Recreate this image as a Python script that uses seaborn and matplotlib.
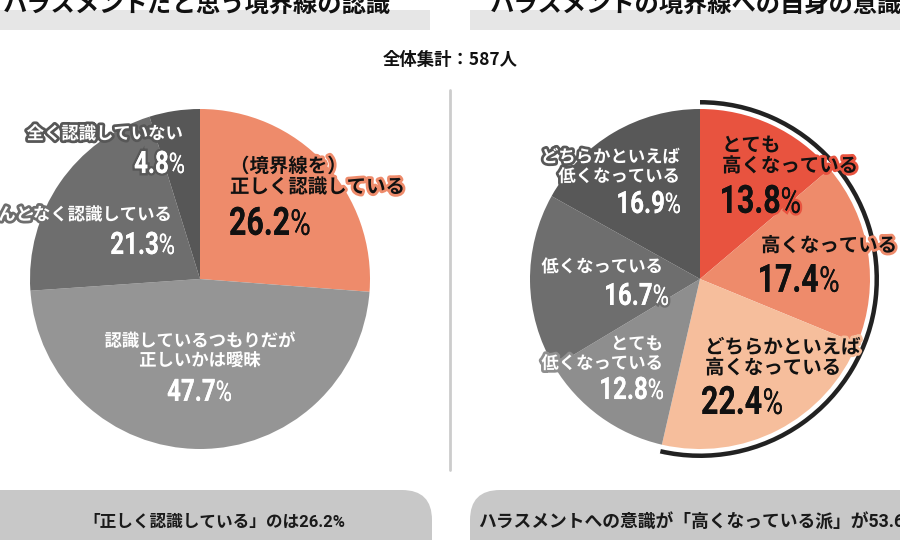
import matplotlib
matplotlib.use('Agg')
import matplotlib.pyplot as plt
import matplotlib.patheffects as pe
from matplotlib.font_manager import FontProperties
from matplotlib.patches import Wedge, FancyBboxPatch, Rectangle, PathPatch
from matplotlib.textpath import TextPath
from matplotlib.transforms import Affine2D
from matplotlib.path import Path
import seaborn as sns

# --- data ---
left_title = 'ハラスメントだと思う境界線の認識'
right_title = 'ハラスメントの境界線への自身の意識'
total_text = '全体集計：587人'

left_labels = ['（境界線を）\n正しく認識している', '認識しているつもりだが\n正しいかは曖昧',
               'なんとなく認識している', '全く認識していない']
left_values = [26.2, 47.7, 21.3, 4.8]
left_colors = ['#EE8B6B', '#959595', '#6E6E6E', '#575757']

right_labels = ['とても\n高くなっている', '高くなっている', 'どちらかといえば\n高くなっている',
                'とても\n低くなっている', '低くなっている', 'どちらかといえば\n低くなっている']
right_values = [13.8, 17.4, 22.4, 12.8, 16.7, 16.9]
right_colors = ['#E8533F', '#EE8B6B', '#F6BE9C', '#8E8E8E', '#6E6E6E', '#585858']

left_note = '「正しく認識している」のは26.2%'
right_note = 'ハラスメントへの意識が「高くなっている派」が53.6%'
high_share = 53.6

sns.set_theme(style='white')
plt.rcParams['font.family'] = ['Noto Sans CJK JP', 'DejaVu Sans']

W, H = 900, 540
fig = plt.figure(figsize=(9, 5.4), dpi=100)
ax = fig.add_axes([0, 0, 1, 1])

R = 170
lc = (200, H - 279)
rc = (700, H - 279)

ax.pie(left_values, colors=left_colors, startangle=90, counterclock=False,
       center=lc, radius=R, wedgeprops=dict(linewidth=0))
ax.pie(right_values, colors=right_colors, startangle=90, counterclock=False,
       center=rc, radius=R, wedgeprops=dict(linewidth=0))

# black arc around the "higher" share
ax.add_patch(Wedge(rc, 179, 90 - high_share * 3.6, 90, width=4.5, color='#222222', lw=0))

ax.set_xlim(0, W)
ax.set_ylim(0, H)
ax.set_aspect('equal')
ax.axis('off')

bold_fp = FontProperties(family='Roboto', weight='bold')
reg_fp = FontProperties(family='Roboto', weight='normal')


def put_label(x, y, text, ha, size, color, edge):
    ax.text(x, H - y, text, ha=ha, va='center', fontsize=size, fontweight='bold',
            color=color, linespacing=1.1,
            path_effects=[pe.withStroke(linewidth=4, foreground=edge)])


def put_number(x, y, value, ha, px, color, edge, sx=0.78):
    # condensed look: bold digits + thin %, squeezed horizontally
    digits = TextPath((0, 0), f'{value:.1f}', size=px, prop=bold_fp)
    w = digits.get_extents().x1
    pct = TextPath((w + px * 0.04, 0), '%', size=px * 0.92, prop=reg_fp)
    path = Path.make_compound_path(digits, pct)
    path = path.transformed(Affine2D().scale(sx, 1))
    ext = path.get_extents()
    dext = digits.get_extents()
    dy = (H - y) - (dext.y0 + dext.y1) / 2
    dx = x - ext.x0 if ha == 'left' else x - ext.x1
    path = path.transformed(Affine2D().translate(dx, dy))
    ax.add_patch(PathPatch(path, facecolor=color, edgecolor='none', lw=0, zorder=4,
                           path_effects=[pe.withStroke(linewidth=3.5, foreground=edge), pe.Normal()]))


# label layout: (label x, label y, number x, number y, ha, label size, number px, text colour)
left_layout = [
    (230, 177, 230, 221, 'left', 14, 39, '#111111'),
    (200, 351, 231, 390, 'center', 12.5, 31, 'white'),
    (172, 215, 174, 243, 'right', 12.5, 31, 'white'),
    (183, 134, 184, 162, 'right', 12.5, 31, 'white'),
]
right_layout = [
    (722, 156, 722, 199, 'left', 14, 39, '#111111'),
    (761, 246, 760, 278, 'left', 14, 39, '#111111'),
    (705, 358, 702, 400, 'left', 14, 39, '#111111'),
    (663, 354, 663, 388, 'right', 12.5, 31, 'white'),
    (663, 267, 668, 294, 'right', 12.5, 31, 'white'),
    (680, 167, 680, 202, 'right', 12.5, 31, 'white'),
]

for labels, values, colors, layout in [(left_labels, left_values, left_colors, left_layout),
                                        (right_labels, right_values, right_colors, right_layout)]:
    for lab, v, c, (lx, ly, nx, ny, ha, ls, npx, tc) in zip(labels, values, colors, layout):
        put_label(lx, ly, lab, ha, ls, tc, c)
        put_number(nx, ny, v, 'left' if ha == 'left' else 'right', npx, tc, c)

# title bars
ax.add_patch(Rectangle((0, H - 30), 430, 20, color='#E6E6E6', lw=0, zorder=0))
ax.add_patch(Rectangle((470, H - 30), 430, 20, color='#E6E6E6', lw=0, zorder=0))
ax.text(3, H - 5, left_title, ha='left', va='center', fontsize=17.5, fontweight='bold', color='#111111')
ax.text(490, H - 5, right_title, ha='left', va='center', fontsize=17.5, fontweight='bold', color='#111111')

ax.text(450, H - 60, total_text, ha='center', va='center', fontsize=12.5, fontweight='bold', color='#111111')

# divider
ax.plot([450, 450], [H - 90, H - 470], color='#CCCCCC', lw=2)

# bottom notes
ax.add_patch(FancyBboxPatch((-60, -40), 492, 90, boxstyle='round,pad=0,rounding_size=30',
                            color='#C8C8C8', lw=0))
ax.add_patch(FancyBboxPatch((470, -40), 492, 90, boxstyle='round,pad=0,rounding_size=30',
                            color='#C8C8C8', lw=0))
ax.text(214, H - 522, left_note, ha='center', va='center', fontsize=12, color='#1A1A1A',
        family=['Roboto', 'Noto Sans CJK JP'], fontweight='bold')
ax.text(478, H - 522, right_note, ha='left', va='center', fontsize=12.8, color='#1A1A1A',
        family=['Roboto', 'Noto Sans CJK JP'], fontweight='bold')

fig.savefig('out.png', dpi=100)
